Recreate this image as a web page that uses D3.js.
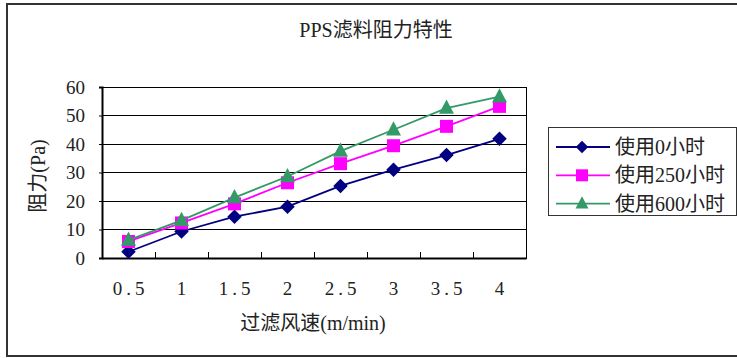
<!DOCTYPE html>
<html><head><meta charset="utf-8">
<script src="https://cdn.jsdelivr.net/npm/d3@7"></script>
<style>
html,body{margin:0;padding:0;background:#fff;}
svg{display:block;}
text{font-family:"Liberation Serif","Noto Sans CJK SC",serif;fill:#222;}
</style></head>
<body>
<svg id="c" width="737" height="358"></svg>
<script>
const categories = ["0.5","1","1.5","2","2.5","3","3.5","4"];
const seriesNames = ["使用0小时","使用250小时","使用600小时"];
const hours0 = [2.2, 9.3, 14.5, 18.0, 25.3, 31.0, 36.1, 41.8];
const hours250 = [5.8, 12.3, 19.0, 26.4, 33.1, 39.4, 46.2, 53.2];
const hours600 = [6.3, 13.2, 21.2, 28.6, 37.5, 45.0, 52.6, 56.6];
const yTicks = [0,10,20,30,40,50,60];
const colors = ["#000080","#FF00FF","#339966"];
const title = "PPS滤料阻力特性";
const xTitle = "过滤风速(m/min)";
const yTitle = "阻力(Pa)";

function diamond(s){const r=s/2;return `M0,${-r}L${r},0L0,${r}L${-r},0Z`;}
function square(s){const r=s/2;return `M${-r},${-r}H${r}V${r}H${-r}Z`;}
function triangle(s){const w=s/2,h=s*0.95;return `M0,${-h*0.6}L${w},${h*0.4}L${-w},${h*0.4}Z`;}
const shapes=[diamond,square,triangle];
const plotSizes=[14.5,13,15];
const legendSizes=[12.5,12,13];

const series = [hours0, hours250, hours600].map((v,i)=>({name:seriesNames[i], values:v, color:colors[i], shape:shapes[i], size:plotSizes[i], lsize:legendSizes[i]}));

const svg = d3.select("#c");
svg.append("rect").attr("x",7).attr("y",4).attr("width",740).attr("height",352)
  .attr("fill","#fff").attr("stroke","#333").attr("stroke-width",2);

const L=102, R=526, T=87, B=258;
const x = d3.scaleBand().domain(categories).range([L,R]);
const y = d3.scaleLinear().domain([0,60]).range([B,T]);

svg.append("g").selectAll("line").data(yTicks.filter(d=>d>0)).join("line")
  .attr("x1",L).attr("x2",R).attr("y1",d=>y(d)).attr("y2",d=>y(d))
  .attr("stroke","#000").attr("stroke-width",1).attr("shape-rendering","crispEdges");
svg.append("rect").attr("x",L).attr("y",T).attr("width",R-L).attr("height",B-T)
  .attr("fill","none").attr("stroke","#000").attr("stroke-width",1).attr("shape-rendering","crispEdges");

const yAxis = d3.axisLeft(y).tickValues(yTicks).tickSize(3).tickPadding(14).tickFormat(d3.format("d"));
const gy = svg.append("g").attr("transform",`translate(${L},0)`).call(yAxis);
gy.select(".domain").attr("stroke","#000").attr("stroke-width",2);
gy.selectAll(".tick line").attr("stroke","#000");
gy.selectAll(".tick text").attr("font-size",19).attr("fill","#222")
  .style("font-family","'Liberation Serif',serif");

const xAxis = d3.axisBottom(x).tickSize(0).tickPadding(24);
const gx = svg.append("g").attr("transform",`translate(0,${B})`).call(xAxis);
gx.select(".domain").attr("stroke","#000").attr("stroke-width",2);
gx.selectAll(".tick text").attr("font-size",19).attr("fill","#222")
  .attr("letter-spacing","4px").attr("dx","2px")
  .style("font-family","'Liberation Serif',serif");
const bounds = categories.slice(1).map(c=>x(c));
svg.append("g").selectAll("line").data(bounds).join("line")
  .attr("x1",d=>d).attr("x2",d=>d).attr("y1",B).attr("y2",B-6)
  .attr("stroke","#000").attr("stroke-width",1).attr("shape-rendering","crispEdges");

const line = d3.line().x((d,i)=>x(categories[i])+x.bandwidth()/2).y(d=>y(d));
series.forEach(s=>{
  const g = svg.append("g");
  g.append("path").attr("d",line(s.values)).attr("fill","none")
    .attr("stroke",s.color).attr("stroke-width",1.8);
  g.selectAll("path.m").data(s.values).join("path").attr("class","m")
    .attr("transform",(d,i)=>`translate(${x(categories[i])+x.bandwidth()/2},${y(d)})`)
    .attr("d",s.shape(s.size)).attr("fill",s.color);
});

svg.append("text").attr("x",376).attr("y",37).attr("text-anchor","middle")
  .attr("font-size",20).text(title);
svg.append("text").attr("x",313).attr("y",330).attr("text-anchor","middle")
  .attr("font-size",20).text(xTitle);
svg.append("text").attr("transform","translate(45,176) rotate(-90)").attr("text-anchor","middle")
  .attr("font-size",20).text(yTitle);

const lg = svg.append("g");
lg.append("rect").attr("x",548.5).attr("y",127.5).attr("width",188).attr("height",88)
  .attr("fill","#fff").attr("stroke","#333").attr("stroke-width",1);
series.forEach((s,i)=>{
  const cy = 147 + i*28.3;
  lg.append("line").attr("x1",556).attr("x2",610).attr("y1",cy).attr("y2",cy)
    .attr("stroke",s.color).attr("stroke-width",1.8);
  lg.append("path").attr("transform",`translate(582,${cy})`)
    .attr("d",s.shape(s.lsize)).attr("fill",s.color);
  lg.append("text").attr("x",615).attr("y",cy+7).attr("font-size",20).text(s.name);
});
</script>
</body></html>
